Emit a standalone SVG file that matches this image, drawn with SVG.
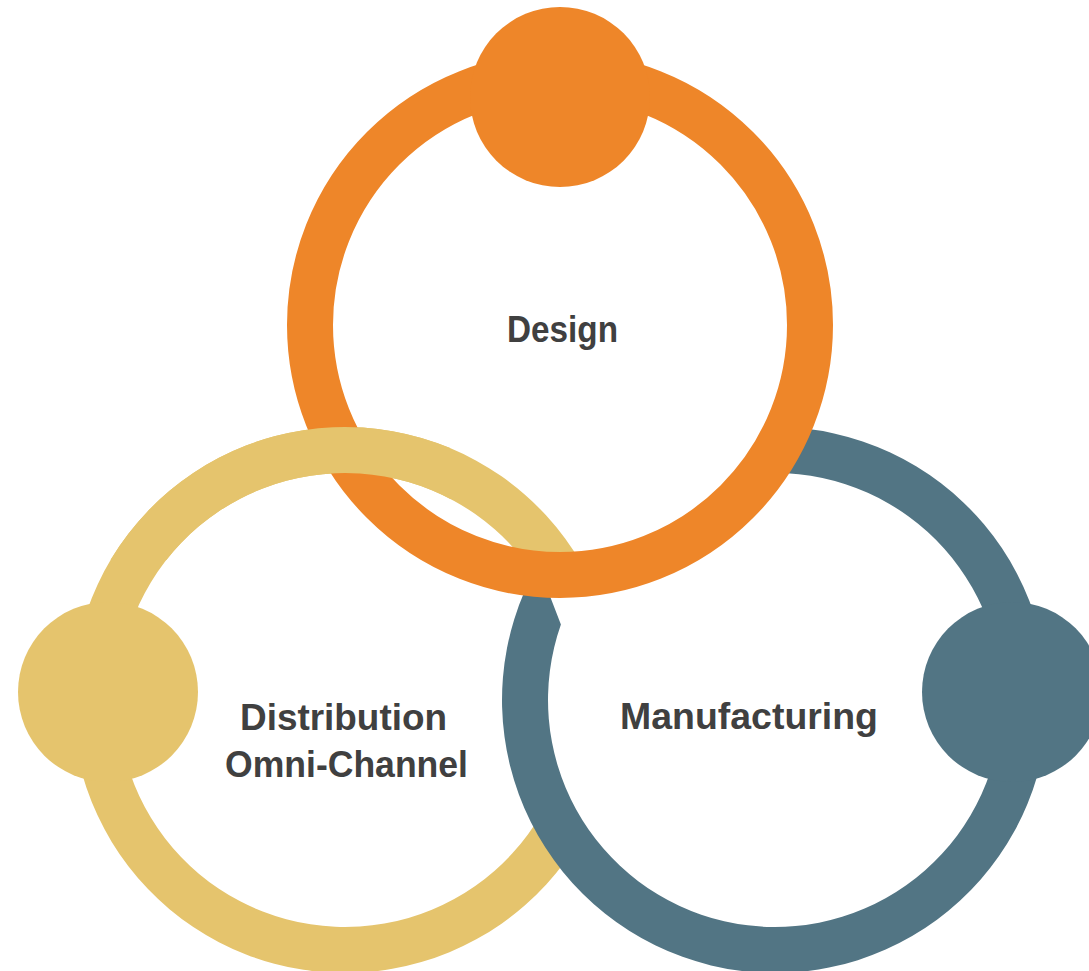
<svg xmlns="http://www.w3.org/2000/svg" xmlns:xlink="http://www.w3.org/1999/xlink" width="1089" height="971" viewBox="0 0 1089 971">
  <style>
    .orange { fill: #EE8629; }
    .yellow { fill: #E5C46D; }
    .teal { fill: #527584; }
    .ring-orange { fill: none; stroke: #EE8629; stroke-width: 46; }
    .label { font-family: "Liberation Sans", Arial, sans-serif; font-weight: bold; font-size: 37px; fill: #404040; }
  </style>
  <defs>
    <path id="yellowRing" d="M 581.4 836.5 A 273 273 0 1 1 581.4 563.5 L 541.6 586.5 A 227 227 0 1 0 541.6 813.5 Z"/>
    <clipPath id="clipTopLeft">
      <rect x="0" y="0" width="450" height="560"/>
    </clipPath>
  </defs>
  <rect x="0" y="0" width="1089" height="971" fill="#FFFFFF"/>

  <g id="node-distribution">
    <use xlink:href="#yellowRing" class="yellow"/>
    <circle class="yellow" cx="108" cy="692" r="90"/>
    <text class="label" x="240" y="730" textLength="207" lengthAdjust="spacingAndGlyphs">Distribution</text>
    <text class="label" x="225" y="777" textLength="243" lengthAdjust="spacingAndGlyphs">Omni-Channel</text>
  </g>

  <g id="node-manufacturing">
    <path class="teal" d="M 775 427 A 273 273 0 1 1 537.9 564.7 L 560.9 624.6 A 227 227 0 1 0 775 473 Z"/>
    <circle class="teal" cx="1012" cy="692" r="90"/>
    <text class="label" x="620" y="729" textLength="258" lengthAdjust="spacingAndGlyphs">Manufacturing</text>
  </g>

  <g id="node-design">
    <circle class="ring-orange" cx="560" cy="325" r="250"/>
    <circle class="orange" cx="560" cy="97" r="90"/>
    <text class="label" x="507" y="342" textLength="111" lengthAdjust="spacingAndGlyphs">Design</text>
  </g>

  <g id="distribution-overlap" clip-path="url(#clipTopLeft)">
    <use xlink:href="#yellowRing" class="yellow"/>
  </g>
</svg>
